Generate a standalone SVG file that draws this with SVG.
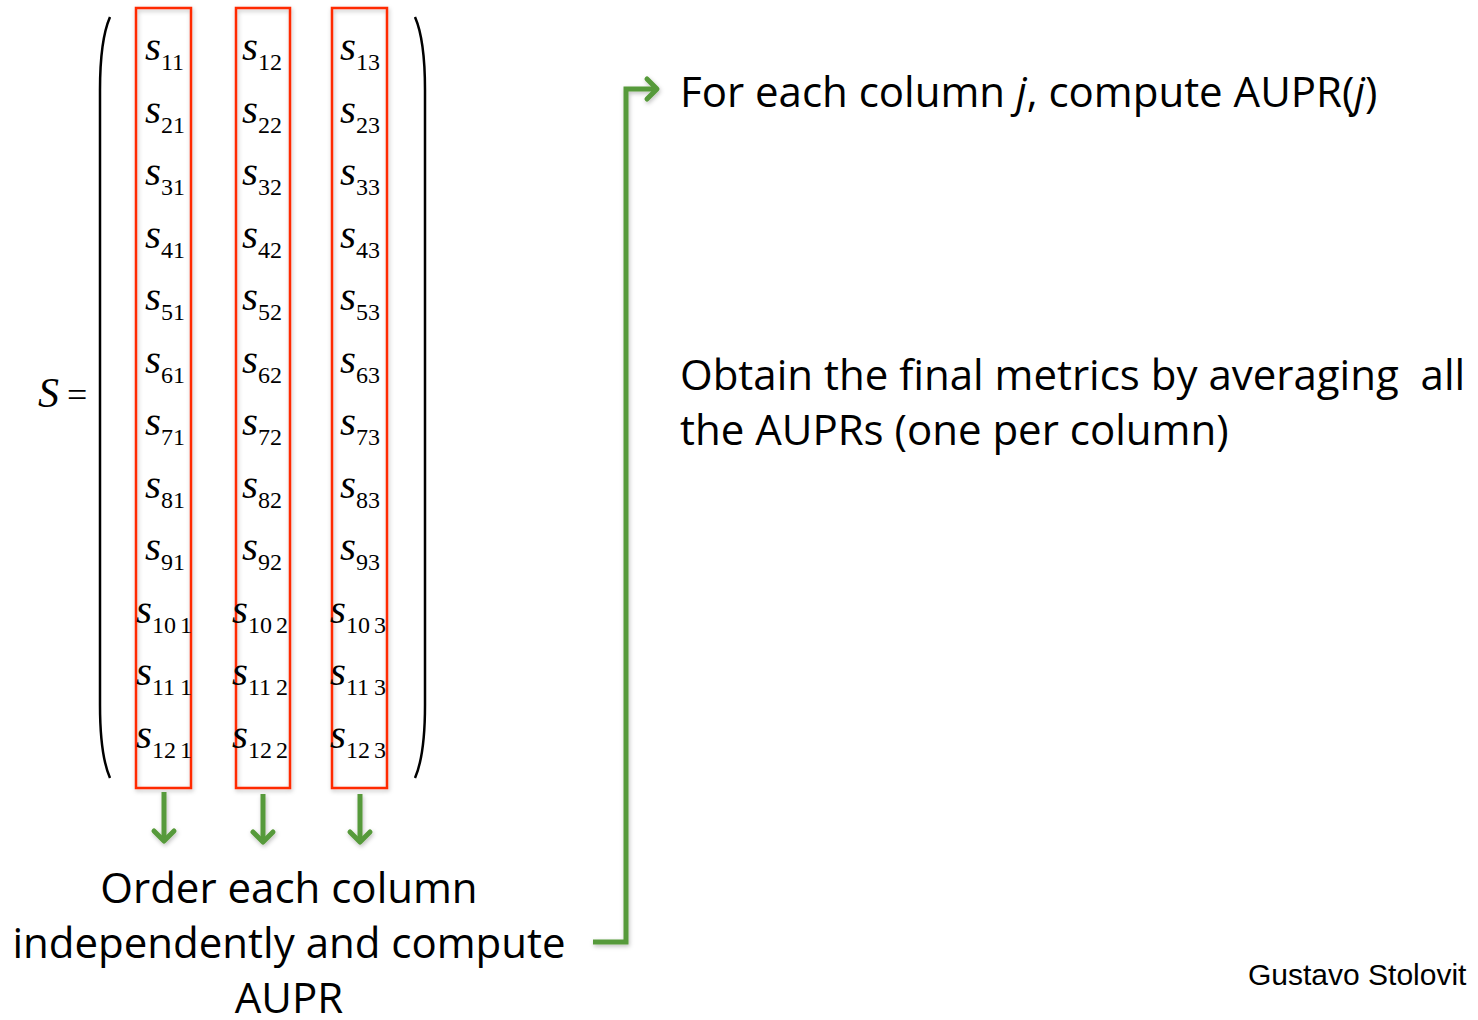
<svg xmlns="http://www.w3.org/2000/svg" width="1478" height="1020" viewBox="0 0 1478 1020">
<style>
.s{font-family:"Liberation Serif",serif;font-style:italic;font-size:41px;fill:#000}
.d{font-family:"Liberation Serif",serif;font-size:24px;fill:#000}
.box{fill:none;stroke:#ff2a00;stroke-width:2.5}
.paren{fill:none;stroke:#000;stroke-width:2.5}
.g{fill:none;stroke:#579a3a;stroke-width:5}
.h{fill:none;stroke:#579a3a;stroke-width:5;stroke-linecap:round;stroke-linejoin:round}
.t{font-family:"Open Sans","Noto Sans",sans-serif;font-size:42px;fill:#000}
.a{font-family:"Liberation Sans",Arial,sans-serif;font-size:30px;fill:#000}
</style>
<defs>
<filter id="sh" x="-20%" y="-5%" width="140%" height="110%">
<feDropShadow dx="1" dy="2" stdDeviation="2" flood-color="#000" flood-opacity="0.25"/>
</filter>
</defs>
<rect width="1478" height="1020" fill="#fff"/>

<g id="matrix-label">
<text class="s" x="38" y="407" style="font-size:42px">S</text>
<text x="67" y="407" style="font-family:'Liberation Serif',serif;font-size:36px">=</text>
</g>

<g id="parens">
<path class="paren" d="M110,17 Q100,40 100,90 L100,705 Q100,755 110,778"/>
<path class="paren" d="M415,17 Q425,40 425,90 L425,705 Q425,755 415,778"/>
</g>

<g id="col1">
<rect class="box" x="136" y="8" width="55" height="780" filter="url(#sh)"/>
<text x="145" y="60"><tspan class="s">s</tspan><tspan class="d" dy="10">11</tspan></text>
<text x="145" y="123"><tspan class="s">s</tspan><tspan class="d" dy="10">21</tspan></text>
<text x="145" y="185"><tspan class="s">s</tspan><tspan class="d" dy="10">31</tspan></text>
<text x="145" y="248"><tspan class="s">s</tspan><tspan class="d" dy="10">41</tspan></text>
<text x="145" y="310"><tspan class="s">s</tspan><tspan class="d" dy="10">51</tspan></text>
<text x="145" y="373"><tspan class="s">s</tspan><tspan class="d" dy="10">61</tspan></text>
<text x="145" y="435"><tspan class="s">s</tspan><tspan class="d" dy="10">71</tspan></text>
<text x="145" y="498"><tspan class="s">s</tspan><tspan class="d" dy="10">81</tspan></text>
<text x="145" y="560"><tspan class="s">s</tspan><tspan class="d" dy="10">91</tspan></text>
<text x="136" y="623"><tspan class="s">s</tspan><tspan class="d" x="152" dy="10">10</tspan><tspan class="d" x="180">1</tspan></text>
<text x="136" y="685"><tspan class="s">s</tspan><tspan class="d" x="152" dy="10">11</tspan><tspan class="d" x="180">1</tspan></text>
<text x="136" y="748"><tspan class="s">s</tspan><tspan class="d" x="152" dy="10">12</tspan><tspan class="d" x="180">1</tspan></text>
</g>

<g id="col2">
<rect class="box" x="236" y="8" width="54" height="780" filter="url(#sh)"/>
<text x="242" y="60"><tspan class="s">s</tspan><tspan class="d" dy="10">12</tspan></text>
<text x="242" y="123"><tspan class="s">s</tspan><tspan class="d" dy="10">22</tspan></text>
<text x="242" y="185"><tspan class="s">s</tspan><tspan class="d" dy="10">32</tspan></text>
<text x="242" y="248"><tspan class="s">s</tspan><tspan class="d" dy="10">42</tspan></text>
<text x="242" y="310"><tspan class="s">s</tspan><tspan class="d" dy="10">52</tspan></text>
<text x="242" y="373"><tspan class="s">s</tspan><tspan class="d" dy="10">62</tspan></text>
<text x="242" y="435"><tspan class="s">s</tspan><tspan class="d" dy="10">72</tspan></text>
<text x="242" y="498"><tspan class="s">s</tspan><tspan class="d" dy="10">82</tspan></text>
<text x="242" y="560"><tspan class="s">s</tspan><tspan class="d" dy="10">92</tspan></text>
<text x="232" y="623"><tspan class="s">s</tspan><tspan class="d" x="248" dy="10">10</tspan><tspan class="d" x="276">2</tspan></text>
<text x="232" y="685"><tspan class="s">s</tspan><tspan class="d" x="248" dy="10">11</tspan><tspan class="d" x="276">2</tspan></text>
<text x="232" y="748"><tspan class="s">s</tspan><tspan class="d" x="248" dy="10">12</tspan><tspan class="d" x="276">2</tspan></text>
</g>

<g id="col3">
<rect class="box" x="332" y="8" width="55" height="780" filter="url(#sh)"/>
<text x="340" y="60"><tspan class="s">s</tspan><tspan class="d" dy="10">13</tspan></text>
<text x="340" y="123"><tspan class="s">s</tspan><tspan class="d" dy="10">23</tspan></text>
<text x="340" y="185"><tspan class="s">s</tspan><tspan class="d" dy="10">33</tspan></text>
<text x="340" y="248"><tspan class="s">s</tspan><tspan class="d" dy="10">43</tspan></text>
<text x="340" y="310"><tspan class="s">s</tspan><tspan class="d" dy="10">53</tspan></text>
<text x="340" y="373"><tspan class="s">s</tspan><tspan class="d" dy="10">63</tspan></text>
<text x="340" y="435"><tspan class="s">s</tspan><tspan class="d" dy="10">73</tspan></text>
<text x="340" y="498"><tspan class="s">s</tspan><tspan class="d" dy="10">83</tspan></text>
<text x="340" y="560"><tspan class="s">s</tspan><tspan class="d" dy="10">93</tspan></text>
<text x="330" y="623"><tspan class="s">s</tspan><tspan class="d" x="346" dy="10">10</tspan><tspan class="d" x="374">3</tspan></text>
<text x="330" y="685"><tspan class="s">s</tspan><tspan class="d" x="346" dy="10">11</tspan><tspan class="d" x="374">3</tspan></text>
<text x="330" y="748"><tspan class="s">s</tspan><tspan class="d" x="346" dy="10">12</tspan><tspan class="d" x="374">3</tspan></text>
</g>

<g id="connectors" filter="url(#sh)">
<line class="g" x1="164" y1="792" x2="164" y2="840"/>
<polyline class="h" points="154,831 164,841 174,831"/>
<line class="g" x1="263" y1="794" x2="263" y2="842"/>
<polyline class="h" points="253,832 263,842 273,832"/>
<line class="g" x1="360" y1="794" x2="360" y2="842"/>
<polyline class="h" points="350,832 360,842 370,832"/>
<polyline class="g" points="593,942 626,942 626,89 657,89"/>
<polyline class="h" points="647,79 657,89 647,99"/>
</g>

<g id="order-text">
<text class="t" x="289" y="903" text-anchor="middle">Order each column</text>
<text class="t" x="289" y="958" text-anchor="middle">independently and compute</text>
<text class="t" x="289" y="1013" text-anchor="middle">AUPR</text>
</g>

<g id="step1">
<text class="t" x="680" y="107">For each column <tspan font-style="italic">j</tspan>, compute AUPR(<tspan font-style="italic">j</tspan>)</text>
</g>

<g id="step2">
<text class="t" x="680" y="390">Obtain the final metrics by averaging &#160;all</text>
<text class="t" x="680" y="445">the AUPRs (one per column)</text>
</g>

<g id="author">
<text class="a" x="1248" y="985">Gustavo Stolovit</text>
</g>
</svg>
